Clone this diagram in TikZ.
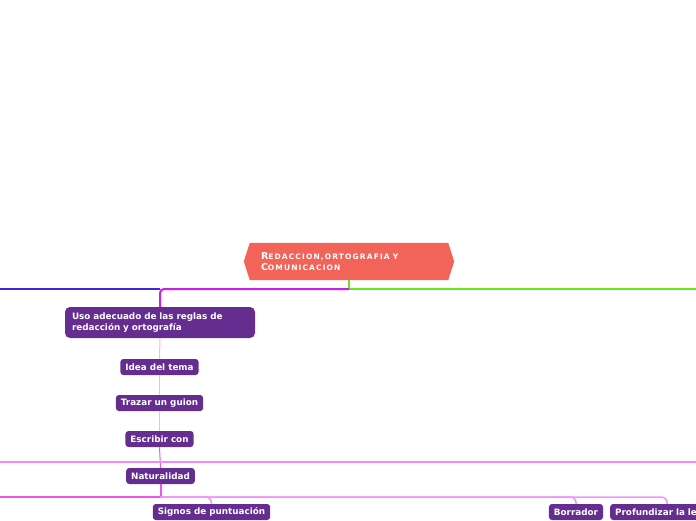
\documentclass[tikz,border=0pt]{standalone}
\usepackage{fontspec}
\setmainfont{DejaVu Sans}
\usetikzlibrary{backgrounds}

\definecolor{rootred}{RGB}{242,100,90}
\definecolor{boxpurple}{RGB}{102,45,145}
\definecolor{greenline}{RGB}{102,232,20}
\definecolor{mainpurple}{RGB}{200,30,240}
\definecolor{blueline}{RGB}{60,40,220}
\definecolor{lightpink}{RGB}{255,175,255}
\definecolor{crosspink}{RGB}{240,140,250}
\definecolor{forkpink}{RGB}{238,85,238}
\definecolor{branchpink}{RGB}{240,150,248}

\newcommand{\smcap}[1]{{\fontsize{7.5}{11}\selectfont\addfontfeature{LetterSpace=15}#1}}

\tikzset{
  roottopic/.style={text=white, font=\fontsize{9.5}{11}\selectfont\bfseries,
    text width=176, inner xsep=11, inner ysep=0, minimum height=37, align=left},
  maintopic/.style={fill=boxpurple, text=white, rounded corners=5,
    font=\fontsize{8.8}{11.5}\selectfont\bfseries, text width=176,
    inner xsep=7, inner ysep=0, minimum height=31, align=left},
  subtopic/.style={fill=boxpurple, text=white, rounded corners=3,
    font=\fontsize{8.8}{10}\selectfont\bfseries, inner xsep=5, inner ysep=0,
    minimum height=16},
  thick line/.style={line width=2},
  thin line/.style={line width=1}
}

\begin{document}
\begin{tikzpicture}[x=1pt, y=-1pt]
\path[use as bounding box, clip] (0,0) rectangle (696,520);

\node[roottopic] (root) at (349,261.5) {R\smcap{EDACCION,ORTOGRAFIA Y}\\C\smcap{OMUNICACION}};
\begin{scope}[on background layer]
\fill[rootred] (root.north west) -- (root.north east) -- ([xshift=6]root.east)
  -- (root.south east) -- (root.south west) -- ([xshift=-6]root.west) -- cycle;
\end{scope}

\node[maintopic] (uso) at (160,322.5) {Uso adecuado de las reglas de redacción y ortografía};
\node[subtopic] (idea) at (159.5,367) {Idea del tema};
\node[subtopic] (trazar) at (159.5,403) {Trazar un guion};
\node[subtopic] (escribir) at (159.5,439) {Escribir con};
\node[subtopic] (natural) at (160.5,476) {Naturalidad};
\node[subtopic] (signos) at (211.5,512) {Signos de puntuación};
\node[subtopic] (borrador) at (576,512) {Borrador};
\node[subtopic, anchor=west, minimum width=114, text width=104, align=left] (profund) at (610,512) {Profundizar la le};

\coordinate (split) at (349,289);
\coordinate (greenend) at (696,289);
\coordinate (blueend) at (0,289);
\coordinate (crossL) at (0,462);
\coordinate (crossR) at (696,462);
\coordinate (fork) at (160.5,497);
\coordinate (forkL) at (0,497);

\draw[greenline, thick line] (root.south) |- (greenend);
\draw[mainpurple, thick line, rounded corners=4] (split) -| (uso.north);
\draw[blueline, thick line] (uso.north |- split) -- (blueend);

\draw[lightpink, thin line] (uso.south) -- (idea.north);
\draw[lightpink, thin line] (idea.south) -- (trazar.north);
\draw[lightpink, thin line] (trazar.south) -- (escribir.north);
\draw[forkpink, thin line] (escribir.south) -- (natural.north);
\draw[crosspink, line width=1.5] (crossL) -- (crossR);

\draw[forkpink, thick line] (natural.south) -- (fork);
\draw[forkpink, line width=1.5] (fork) -- (forkL);
\draw[branchpink, line width=1.5, rounded corners=6] (fork) -| (signos.north);
\draw[branchpink, line width=1.5, rounded corners=6] (fork) -| (borrador.north);
\draw[branchpink, line width=1.5, rounded corners=6] (fork) -| (profund.north);
\end{tikzpicture}
\end{document}
